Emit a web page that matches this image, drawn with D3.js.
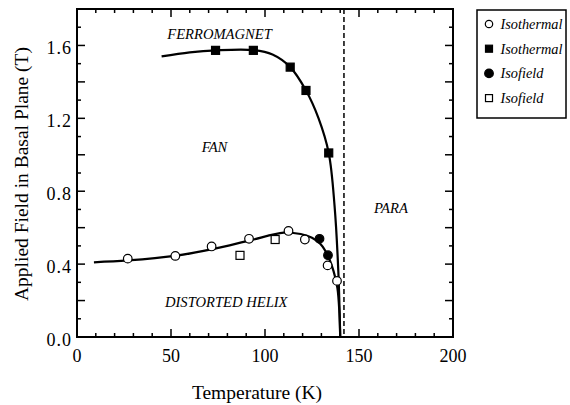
<!DOCTYPE html>
<html>
<head>
<meta charset="utf-8">
<script src="https://cdn.jsdelivr.net/npm/d3@7"></script>
<style>
  body { margin: 0; background: #fff; }
  text { font-family: "Liberation Serif", "Times New Roman", serif; }
</style>
</head>
<body>
<div id="chart"></div>
<script>
// data
var isothermalOpen = [[27, 0.43], [52.3, 0.445], [71.6, 0.497], [91.5, 0.539], [112.5, 0.582], [121.2, 0.535], [133.3, 0.393], [138.3, 0.308]];
var isothermalFilled = [[73.7, 1.573], [93.8, 1.573], [113.4, 1.481], [121.8, 1.353], [133.9, 1.01]];
var isofieldFilled = [[129, 0.539], [133.5, 0.449]];
var isofieldOpen = [[86.7, 0.448], [105.4, 0.535]];
var upperCurve = [[45, 1.54], [60, 1.562], [74, 1.573], [94, 1.574], [104, 1.55], [113.4, 1.481], [121.8, 1.353], [128.5, 1.2], [133.9, 1.01], [137, 0.72], [139, 0.36], [140, 0]];
var lowerCurve = [[9, 0.41], [27, 0.42], [52, 0.445], [72, 0.482], [92, 0.53], [110, 0.573], [119, 0.565], [125, 0.545], [129.5, 0.51], [133.5, 0.445], [136.5, 0.36], [138.5, 0.27], [139.6, 0.13], [140, 0]];
var transitionT = 142;
var xTickLabels = [0, 50, 100, 150, 200];
var yTickLabels = [0.0, 0.4, 0.8, 1.2, 1.6];
var regionLabels = [
  { text: "FERROMAGNET", t: 48, h: 1.635 },
  { text: "FAN", t: 66.3, h: 1.017 },
  { text: "PARA", t: 158, h: 0.68 },
  { text: "DISTORTED HELIX", t: 46.8, h: 0.166 }
];
var legendItems = [
  { label: "Isothermal", shape: "circle", fill: "#fff" },
  { label: "Isothermal", shape: "square", fill: "#000" },
  { label: "Isofield", shape: "circle", fill: "#000" },
  { label: "Isofield", shape: "square", fill: "#fff" }
];

var W = 570, H = 405;
var margin = { top: 9, right: 117, bottom: 68, left: 77 },
    width = W - margin.left - margin.right,
    height = H - margin.top - margin.bottom;

var svg = d3.select("#chart").append("svg")
    .attr("width", W).attr("height", H);
var g = svg.append("g")
    .attr("transform", "translate(" + margin.left + "," + margin.top + ")");

var x = d3.scaleLinear().domain([0, 200]).range([0, width]);
var y = d3.scaleLinear().domain([0, 1.8]).range([height, 0]);

// ticks (inward, on all four sides)
function drawTicks(values, len, isX) {
  values.forEach(function (v) {
    if (isX) {
      g.append("line").attr("x1", x(v)).attr("x2", x(v)).attr("y1", height).attr("y2", height - len)
        .attr("stroke", "#000").attr("stroke-width", 1.5);
      g.append("line").attr("x1", x(v)).attr("x2", x(v)).attr("y1", 0).attr("y2", len)
        .attr("stroke", "#000").attr("stroke-width", 1.5);
    } else {
      g.append("line").attr("y1", y(v)).attr("y2", y(v)).attr("x1", 0).attr("x2", len)
        .attr("stroke", "#000").attr("stroke-width", 1.5);
      g.append("line").attr("y1", y(v)).attr("y2", y(v)).attr("x1", width).attr("x2", width - len)
        .attr("stroke", "#000").attr("stroke-width", 1.5);
    }
  });
}
drawTicks(d3.range(0, 201, 10).filter(function (d) { return d % 50 != 0; }), 4, true);
drawTicks(d3.range(0, 201, 50), 8, true);
drawTicks(d3.range(0.1, 1.8, 0.2), 4, false);
drawTicks(d3.range(0.2, 1.8, 0.2), 8, false);

// frame
g.append("rect").attr("width", width).attr("height", height)
  .attr("fill", "none").attr("stroke", "#000").attr("stroke-width", 2);

// tick labels
g.selectAll(".xl").data(xTickLabels).enter().append("text")
  .attr("x", function (d) { return x(d); }).attr("y", height + 24.5)
  .attr("text-anchor", "middle").attr("font-size", 18).text(function (d) { return d; });
g.selectAll(".yl").data(yTickLabels).enter().append("text")
  .attr("x", -5).attr("y", function (d) { return y(d) + 9; })
  .attr("text-anchor", "end").attr("font-size", 18).attr("letter-spacing", 1)
  .text(function (d) { return d.toFixed(1); });

// axis titles
svg.append("text").attr("x", 257).attr("y", 399)
  .attr("text-anchor", "middle").attr("font-size", 19.5).text("Temperature (K)");
svg.append("text").attr("transform", "translate(28,174) rotate(-90)")
  .attr("text-anchor", "middle").attr("font-size", 19.5).text("Applied Field in Basal Plane (T)");

// dashed transition line
g.append("line").attr("x1", x(transitionT)).attr("x2", x(transitionT)).attr("y1", 0).attr("y2", height)
  .attr("stroke", "#000").attr("stroke-width", 1.5).attr("stroke-dasharray", "5,3");

// curves
var line = d3.line()
  .x(function (d) { return x(d[0]); })
  .y(function (d) { return y(d[1]); })
  .curve(d3.curveCatmullRom.alpha(0.5));
[upperCurve, lowerCurve].forEach(function (c) {
  g.append("path").datum(c).attr("d", line)
    .attr("fill", "none").attr("stroke", "#000").attr("stroke-width", 2.2);
});

// markers
function drawCircles(data, fill) {
  g.selectAll(null).data(data).enter().append("circle")
    .attr("cx", function (d) { return x(d[0]); })
    .attr("cy", function (d) { return y(d[1]); })
    .attr("r", 4.3).attr("fill", fill).attr("stroke", "#000").attr("stroke-width", 1.2);
}
function drawSquares(data, fill) {
  g.selectAll(null).data(data).enter().append("rect")
    .attr("x", function (d) { return x(d[0]) - 4; })
    .attr("y", function (d) { return y(d[1]) - 4; })
    .attr("width", 8).attr("height", 8)
    .attr("fill", fill).attr("stroke", "#000").attr("stroke-width", 1.2);
}
drawSquares(isothermalFilled, "#000");
drawSquares(isofieldOpen, "#fff");
drawCircles(isofieldFilled, "#000");
drawCircles(isothermalOpen, "#fff");

// region labels
g.selectAll(".rl").data(regionLabels).enter().append("text")
  .attr("x", function (d) { return x(d.t); })
  .attr("y", function (d) { return y(d.h); })
  .attr("font-size", 14.6).attr("font-style", "italic").text(function (d) { return d.text; });

// legend
var lg = svg.append("g").attr("transform", "translate(477,10)");
lg.append("rect").attr("width", 89).attr("height", 108)
  .attr("fill", "#fff").attr("stroke", "#000").attr("stroke-width", 1.5);
legendItems.forEach(function (d, i) {
  var cy = 14 + i * 24.7;
  if (d.shape == "circle") {
    lg.append("circle").attr("cx", 12).attr("cy", cy).attr("r", d.fill == "#000" ? 4.3 : 3.7)
      .attr("fill", d.fill).attr("stroke", "#000").attr("stroke-width", 1.2);
  } else {
    lg.append("rect").attr("x", 8.5).attr("y", cy - 3.5).attr("width", 7).attr("height", 7)
      .attr("fill", d.fill).attr("stroke", "#000").attr("stroke-width", 1.2);
  }
  lg.append("text").attr("x", 23.5).attr("y", cy + 5)
    .attr("font-size", 14.3).attr("font-style", "italic").text(d.label);
});
</script>
</body>
</html>
